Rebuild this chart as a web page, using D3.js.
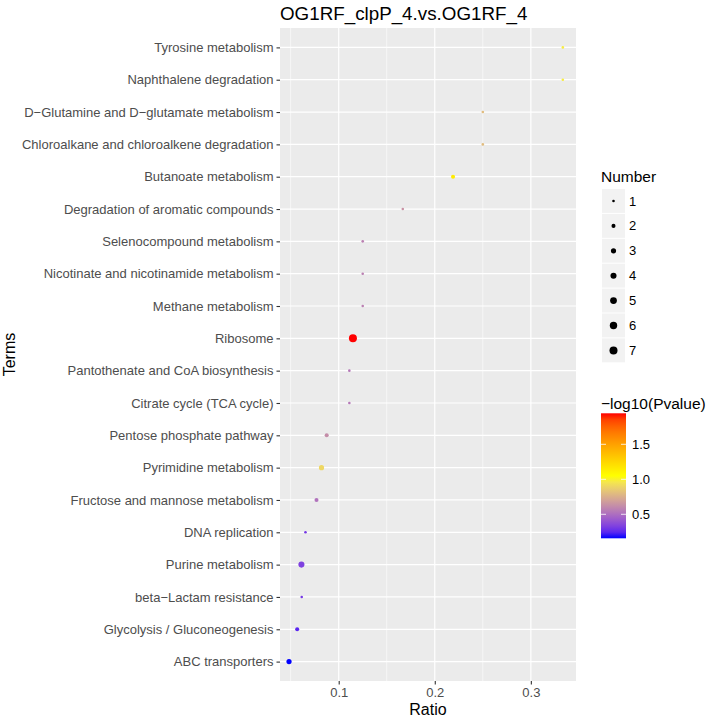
<!DOCTYPE html>
<html><head><meta charset="utf-8">
<script src="https://cdn.jsdelivr.net/npm/d3@7"></script>
<style>body{margin:0;background:#fff;} text{font-family:"Liberation Sans",Arial,sans-serif;}</style>
</head><body><svg id="c" width="709" height="718"></svg>
<script>
const terms = ["Tyrosine metabolism","Naphthalene degradation","D\u2212Glutamine and D\u2212glutamate metabolism","Chloroalkane and chloroalkene degradation","Butanoate metabolism","Degradation of aromatic compounds","Selenocompound metabolism","Nicotinate and nicotinamide metabolism","Methane metabolism","Ribosome","Pantothenate and CoA biosynthesis","Citrate cycle (TCA cycle)","Pentose phosphate pathway","Pyrimidine metabolism","Fructose and mannose metabolism","DNA replication","Purine metabolism","beta\u2212Lactam resistance","Glycolysis / Gluconeogenesis","ABC transporters"];
const ratio = [0.3333,0.3333,0.25,0.25,0.219,0.1667,0.125,0.125,0.125,0.1148,0.1111,0.1111,0.0875,0.0821,0.0769,0.0654,0.0612,0.0615,0.0568,0.0483];
const number = [1,1,1,1,2,1,1,1,1,7,1,1,2,3,2,1,4,1,2,3];
const mlogp = [0.98,0.98,0.8,0.8,1.15,0.64,0.57,0.57,0.57,1.943,0.54,0.54,0.62,0.9,0.52,0.3,0.33,0.3,0.24,0.157];
const xTicks = [0.1,0.2,0.3];
const xMinor = [0.05,0.15,0.25];
const xLimits = [0.0389,0.347];
const sizeBreaks = [1,2,3,4,5,6,7];
const colorTicks = [0.5,1.0,1.5];
const colorLimits = [0.157,1.943];

const svg = d3.select("#c");
const P = {l:280,r:576,t:28,b:681};
const x = d3.scaleLinear().domain(xLimits).range([P.l,P.r]);
const y = d3.scalePoint().domain(terms).range([P.t,P.b]).padding(0.6);
const rMin=1, rMax=7;
const rad = n => 0.667*(1+5*Math.sqrt((n-rMin)/(rMax-rMin)));
const col = d3.scaleLinear().domain([colorLimits[0],(colorLimits[0]+colorLimits[1])/2,colorLimits[1]]).range(["#0000ff","#ffff00","#ff0000"]).interpolate(d3.interpolateLab);

svg.append("rect").attr("x",P.l).attr("y",P.t).attr("width",P.r-P.l).attr("height",P.b-P.t).attr("fill","#ebebeb");
const g = svg.append("g");
xMinor.forEach(v=>g.append("line").attr("x1",x(v)).attr("x2",x(v)).attr("y1",P.t).attr("y2",P.b).attr("stroke","#fff").attr("stroke-width",0.6));
xTicks.forEach(v=>g.append("line").attr("x1",x(v)).attr("x2",x(v)).attr("y1",P.t).attr("y2",P.b).attr("stroke","#fff").attr("stroke-width",1.2));
terms.forEach(t=>g.append("line").attr("x1",P.l).attr("x2",P.r).attr("y1",y(t)).attr("y2",y(t)).attr("stroke","#fff").attr("stroke-width",1.2));

// points
const data = terms.map((t,i)=>({t,r:ratio[i],n:number[i],p:mlogp[i]}));
svg.append("g").selectAll("circle").data(data).join("circle")
  .attr("cx",d=>x(d.r)).attr("cy",d=>y(d.t)).attr("r",d=>Math.max(rad(d.n),1.3)).attr("fill",d=>col(d.p));

// axes
const xa = svg.append("g").attr("transform",`translate(0,${P.b})`).call(d3.axisBottom(x).tickValues(xTicks).tickFormat(d3.format(".1f")).tickSize(3.5).tickPadding(3));
xa.select(".domain").remove();
xa.selectAll("line").attr("stroke","#333").attr("stroke-width",1.1);
xa.selectAll("text").attr("fill","#4d4d4d").style("font-size","13px");
const ya = svg.append("g").attr("transform",`translate(${P.l},0)`).call(d3.axisLeft(y).tickSize(3.5).tickPadding(3));
ya.select(".domain").remove();
ya.selectAll("line").attr("stroke","#333").attr("stroke-width",1.1);
ya.selectAll("text").attr("fill","#4d4d4d").style("font-size","13px");

svg.append("text").attr("x",(P.l+P.r)/2).attr("y",715).attr("text-anchor","middle").style("font-size","16px").attr("fill","#000").text("Ratio");
svg.append("text").attr("transform",`translate(15,${(P.t+P.b)/2}) rotate(-90)`).attr("text-anchor","middle").style("font-size","16px").attr("fill","#000").text("Terms");
svg.append("text").attr("x",280).attr("y",20).style("font-size","18.8px").attr("fill","#000").text("OG1RF_clpP_4.vs.OG1RF_4");

// size legend
svg.append("text").attr("x",601).attr("y",182).style("font-size","15.5px").text("Number");
const lg = svg.append("g").selectAll("g").data(sizeBreaks).join("g").attr("transform",(d,i)=>`translate(602,${189+i*24.9})`);
lg.append("rect").attr("width",23).attr("height",23.9).attr("fill","#f2f2f2");
lg.append("circle").attr("cx",11.5).attr("cy",12).attr("r",d=>Math.max(rad(d),1.3)).attr("fill","#000");
lg.append("text").attr("x",27).attr("y",16.5).style("font-size","13px").attr("fill","#000").text(d=>d);

// colour legend
svg.append("text").attr("x",601).attr("y",409).style("font-size","15.5px").text("\u2212log10(Pvalue)");
const defs = svg.append("defs");
const grad = defs.append("linearGradient").attr("id","cg").attr("x1",0).attr("y1",1).attr("x2",0).attr("y2",0);
d3.range(0,1.0001,0.05).forEach(f=>grad.append("stop").attr("offset",f).attr("stop-color",col(colorLimits[0]+f*(colorLimits[1]-colorLimits[0]))));
const cb = d3.scaleLinear().domain(colorLimits).range([538.3,413.3]);
svg.append("rect").attr("x",601).attr("y",413.3).attr("width",25).attr("height",125).attr("fill","url(#cg)");
colorTicks.forEach(v=>{
  svg.append("line").attr("x1",601).attr("x2",606).attr("y1",cb(v)).attr("y2",cb(v)).attr("stroke","#fff").attr("stroke-width",0.8);
  svg.append("line").attr("x1",621).attr("x2",626).attr("y1",cb(v)).attr("y2",cb(v)).attr("stroke","#fff").attr("stroke-width",0.8);
  svg.append("text").attr("x",632).attr("y",cb(v)+4.5).style("font-size","13px").text(d3.format(".1f")(v));
});
</script></body></html>
